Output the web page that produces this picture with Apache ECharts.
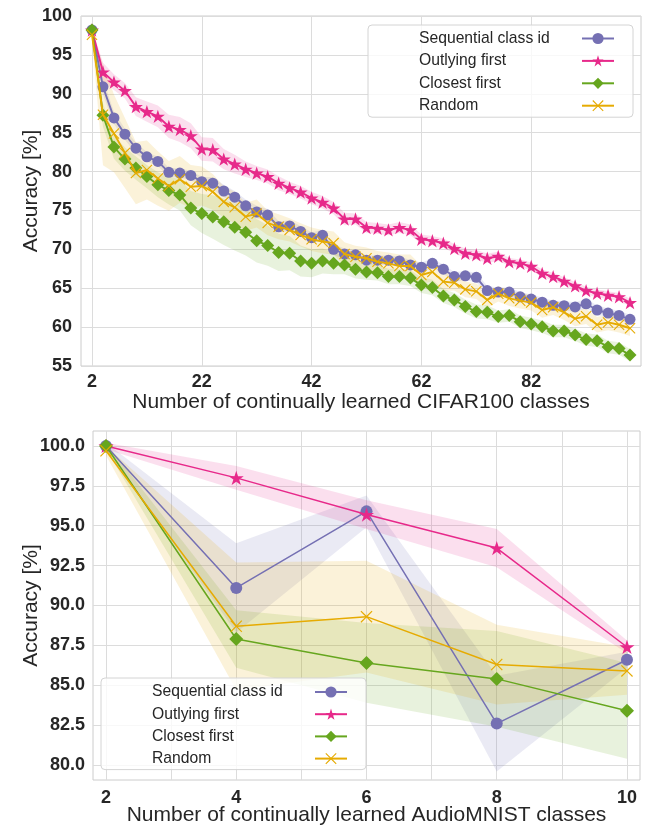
<!DOCTYPE html>
<html>
<head>
<meta charset="utf-8">
<script src="https://cdn.jsdelivr.net/npm/echarts@6/dist/echarts.min.js"></script>
<style>
html, body { margin: 0; padding: 0; background: #fff; }
#chart { width: 646px; height: 826px; }
</style>
</head>
<body>
<div id="chart"></div>
<script>
// --- data ---
var seriesNames = ['Sequential class id', 'Outlying first', 'Closest first', 'Random'];

var cifarClasses = [2, 4, 6, 8, 10, 12, 14, 16, 18, 20, 22, 24, 26, 28, 30, 32, 34, 36, 38, 40,
    42, 44, 46, 48, 50, 52, 54, 56, 58, 60, 62, 64, 66, 68, 70, 72, 74, 76, 78, 80,
    82, 84, 86, 88, 90, 92, 94, 96, 98, 100];
var cifarTicks = [2, 22, 42, 62, 82];

var cifarSeq = [98.2, 90.9, 86.9, 84.8, 83.0, 81.9, 81.3, 79.9, 79.8, 79.5, 78.7, 78.5, 77.5, 76.7, 75.6, 74.8, 74.4, 72.9, 73.0, 72.3,
    71.5, 71.8, 70.0, 69.4, 69.3, 68.6, 68.6, 68.6, 68.5, 68.0, 67.7, 68.2, 67.45, 66.5, 66.6, 66.4, 64.7, 64.5, 64.5, 63.9,
    63.6, 63.2, 62.8, 62.75, 62.6, 63.0, 62.2, 61.8, 61.5, 61.0];
var cifarOut = [98.2, 92.8, 91.5, 90.4, 88.35, 87.7, 87.1, 85.8, 85.4, 84.6, 82.9, 82.8, 81.6, 80.95, 80.3, 79.8, 79.35, 78.5, 77.9, 77.35,
    76.6, 76.05, 75.3, 73.9, 73.9, 72.8, 72.7, 72.5, 72.8, 72.5, 71.3, 71.1, 70.8, 70.1, 69.5, 69.3, 68.85, 69.1, 68.4, 68.2,
    67.8, 66.9, 66.5, 65.9, 65.3, 64.7, 64.35, 64.1, 63.9, 63.15];
var cifarClose = [98.2, 87.25, 83.15, 81.6, 80.45, 79.35, 78.3, 77.55, 77.0, 75.3, 74.6, 74.15, 73.55, 72.85, 72.2, 71.1, 70.5, 69.6, 69.5, 68.5,
    68.2, 68.5, 68.2, 68.0, 67.45, 67.1, 67.0, 66.5, 66.5, 66.3, 65.4, 65.1, 64.0, 63.5, 62.65, 62.0, 61.9, 61.35, 61.5, 60.7,
    60.4, 60.05, 59.5, 59.5, 59.0, 58.4, 58.25, 57.45, 57.25, 56.4];
var cifarRand = [97.6, 87.3, 84.9, 82.4, 79.8, 80.2, 79.1, 78.15, 79.0, 78.05, 78.15, 77.4, 76.1, 75.4, 74.2, 74.6, 73.4, 72.9, 72.5, 71.85,
    71.3, 71.0, 70.8, 69.4, 69.05, 68.85, 68.4, 68.2, 67.85, 67.85, 66.7, 67.1, 65.85, 65.7, 64.85, 64.6, 63.5, 64.3, 63.7, 63.4,
    63.15, 62.2, 62.55, 61.9, 61.1, 61.4, 60.3, 60.6, 60.3, 59.85];

// half width of the shaded bands
var cifarSeqStd = [0.3, 1.0, 0.8, 0.7, 0.7, 0.6, 0.6, 0.6, 0.6, 0.6, 0.6, 0.8, 0.8, 0.8, 0.8, 0.8, 0.8, 0.7, 0.7, 0.7,
    0.7, 0.7, 0.7, 0.7, 0.6, 0.6, 0.6, 0.6, 0.6, 0.6, 0.6, 0.6, 0.6, 0.6, 0.6, 0.6, 0.6, 0.6, 0.6, 0.6,
    0.6, 0.6, 0.6, 0.6, 0.6, 0.6, 0.6, 0.6, 0.6, 0.6];
var cifarOutStd = [0.3, 1.2, 1.0, 1.0, 1.2, 1.3, 1.4, 1.5, 1.6, 1.6, 1.5, 1.5, 1.3, 1.2, 1.0, 0.9, 0.9, 0.9, 0.8, 0.8,
    0.8, 0.8, 0.8, 0.8, 0.7, 0.7, 0.7, 0.7, 0.7, 0.7, 0.6, 0.6, 0.6, 0.6, 0.6, 0.6, 0.6, 0.6, 0.5, 0.5,
    0.5, 0.5, 0.5, 0.5, 0.5, 0.5, 0.5, 0.5, 0.5, 0.5];
var cifarCloseStd = [0.3, 1.5, 1.5, 1.5, 1.5, 1.5, 1.6, 1.8, 2.0, 2.2, 2.5, 2.8, 3.0, 3.0, 3.0, 2.8, 2.6, 2.4, 2.2, 2.0,
    1.8, 1.6, 1.4, 1.2, 1.2, 1.0, 1.0, 1.0, 1.0, 1.0, 1.0, 1.0, 0.9, 0.9, 0.9, 0.9, 0.9, 0.8, 0.8, 0.8,
    0.8, 0.8, 0.8, 0.8, 0.8, 0.8, 0.8, 0.8, 0.8, 0.8];
var cifarRandStd = [0.5, 6.5, 5.0, 4.5, 4.0, 3.8, 3.5, 3.2, 3.0, 2.8, 2.5, 2.3, 2.0, 2.0, 1.8, 1.8, 1.6, 1.6, 1.5, 1.5,
    1.5, 1.5, 1.5, 1.5, 1.4, 1.4, 1.4, 1.4, 1.5, 1.5, 1.2, 1.2, 1.2, 1.0, 1.0, 1.0, 1.0, 1.0, 1.0, 1.0,
    1.0, 1.0, 1.0, 1.0, 1.0, 1.0, 1.0, 1.0, 1.0, 1.0];

var audioClasses = [2, 4, 6, 8, 10];
var audioTicks = [2, 3, 4, 5, 6, 7, 8, 9, 10];
var audioLabels = [2, 4, 6, 8, 10];
var audioYTicks = [80, 82.5, 85, 87.5, 90, 92.5, 95, 97.5, 100];

var audioSeq = [100.0, 91.1, 95.9, 82.6, 86.6];
var audioOut = [100.0, 98.0, 95.7, 93.6, 87.4];
var audioClose = [100.0, 87.9, 86.4, 85.4, 83.4];
var audioRand = [99.7, 88.7, 89.3, 86.3, 85.9];

var audioSeqStd = [0.2, 2.8, 1.0, 3.0, 0.5];
var audioOutStd = [0.2, 0.75, 0.9, 1.2, 0.4];
var audioCloseStd = [0.2, 1.8, 2.5, 3.0, 3.0];
var audioRandStd = [0.3, 4.0, 3.5, 2.5, 1.5];

// --- styling ---
var colors = ['#7570b3', '#e7298a', '#66a61e', '#e6ab02'];
var starPath = 'path://M0,-10L2.245,-3.09L9.51,-3.09L3.633,1.18L5.878,8.09L0,3.82L-5.878,8.09L-3.633,1.18L-9.51,-3.09L-2.245,-3.09Z';
var crossPath = 'path://M-10,-8.6L-8.6,-10L0,-1.4L8.6,-10L10,-8.6L1.4,0L10,8.6L8.6,10L0,1.4L-8.6,10L-10,8.6L-1.4,0Z';
var symbols = ['circle', starPath, 'diamond', crossPath];
var font = "'Liberation Sans', Arial, sans-serif";
var textColor = '#262626';
var gridLine = '#dcdcdc';

var series = [];

// shaded band (mean +- std) as one polygon, placed through the axes
function bandSeries(idx, xs, m, s, color) {
    return {
        type: 'custom', xAxisIndex: idx, yAxisIndex: idx, silent: true, z: 1,
        data: xs.map(function (x, i) { return [x, m[i] - s[i], m[i] + s[i]]; }),
        encode: { x: 0, y: [1, 2] },
        renderItem: function (params, api) {
            if (params.dataIndex !== 0) return;
            var upper = [], lower = [];
            for (var i = 0; i < xs.length; i++) {
                upper.push(api.coord([xs[i], m[i] + s[i]]));
                lower.push(api.coord([xs[i], m[i] - s[i]]));
            }
            return {
                type: 'polygon',
                shape: { points: upper.concat(lower.reverse()) },
                style: { fill: color, opacity: 0.15 }
            };
        }
    };
}

function addPanel(idx, xs, means, stds, sizes, lineWidth) {
    seriesNames.forEach(function (name, k) {
        series.push(bandSeries(idx, xs, means[k], stds[k], colors[k]));
    });
    seriesNames.forEach(function (name, k) {
        series.push({
            name: name, type: 'line', xAxisIndex: idx, yAxisIndex: idx,
            data: xs.map(function (x, i) { return [x, means[k][i]]; }),
            symbol: symbols[k], symbolSize: sizes[k], symbolKeepAspect: true,
            showAllSymbol: true,
            itemStyle: { color: colors[k] },
            lineStyle: { color: colors[k], width: lineWidth },
            z: 3 + k
        });
    });
}

addPanel(0, cifarClasses,
    [cifarSeq, cifarOut, cifarClose, cifarRand],
    [cifarSeqStd, cifarOutStd, cifarCloseStd, cifarRandStd],
    [11, 14, 13, 11], 1.9);
addPanel(1, audioClasses,
    [audioSeq, audioOut, audioClose, audioRand],
    [audioSeqStd, audioOutStd, audioCloseStd, audioRandStd],
    [12, 15, 14, 12], 1.5);

var tickLabel = { color: textColor, fontFamily: font, fontWeight: 'bold', fontSize: 18 };
var axisName = { color: textColor, fontFamily: font, fontSize: 21 };

function legendAt(left, top, gap, pad) {
    return {
        orient: 'vertical', left: left, top: top, align: 'right',
        data: seriesNames,
        itemWidth: 32, itemHeight: 14, itemGap: gap,
        padding: pad,
        backgroundColor: 'rgba(255,255,255,0.8)',
        borderColor: '#d4d4d4', borderWidth: 1, borderRadius: 4,
        formatter: function (name) { return '{t|' + name + '}'; },
        textStyle: {
            rich: { t: { width: 158, align: 'left', fontSize: 15.7, fontFamily: font, color: textColor } }
        },
        selectedMode: false
    };
}

var chart = echarts.init(document.getElementById('chart'), null, { renderer: 'canvas' });

var option = {
    animation: false,
    backgroundColor: '#fff',
    grid: [
        { left: 81, top: 16, width: 560, height: 350, show: true, borderColor: '#cccccc', borderWidth: 1, outerBoundsMode: 'none' },
        { left: 93, top: 431, width: 547, height: 349, show: true, borderColor: '#cccccc', borderWidth: 1, outerBoundsMode: 'none' }
    ],
    legend: [
        legendAt(368, 25, 6.4, [5.5, 18, 3.5, 51]),
        legendAt(101, 678, 6.2, [6, 18, 3, 51])
    ],
    xAxis: [
        {
            gridIndex: 0, type: 'value', min: 0, max: 102,
            axisLine: { show: false },
            axisTick: { show: false, customValues: cifarTicks },
            axisLabel: Object.assign({ customValues: cifarTicks, margin: 7 }, tickLabel),
            splitLine: { show: true, lineStyle: { color: gridLine, width: 1 } },
            name: 'Number of continually learned CIFAR100 classes',
            nameLocation: 'middle', nameGap: 26, nameTextStyle: axisName
        },
        {
            gridIndex: 1, type: 'value', min: 1.8, max: 10.2,
            axisLine: { show: false },
            axisTick: { show: false, customValues: audioTicks },
            axisLabel: Object.assign({ customValues: audioLabels, margin: 9 }, tickLabel),
            splitLine: { show: true, lineStyle: { color: gridLine, width: 1 } },
            name: 'Number of continually learned AudioMNIST classes',
            nameLocation: 'middle', nameGap: 25, nameMoveOverlap: false, nameTextStyle: axisName
        }
    ],
    yAxis: [
        {
            gridIndex: 0, type: 'value', min: 55, max: 100, interval: 5,
            axisLine: { show: false },
            axisTick: { show: false },
            axisLabel: Object.assign({ margin: 9 }, tickLabel),
            splitLine: { show: true, lineStyle: { color: gridLine, width: 1 } },
            name: 'Accuracy [%]', nameLocation: 'middle', nameGap: 39,
            nameMoveOverlap: false, nameTextStyle: axisName
        },
        {
            gridIndex: 1, type: 'value', min: 79.0625, max: 100.9375,
            axisLine: { show: false },
            axisTick: { show: false, customValues: audioYTicks },
            axisLabel: Object.assign({
                customValues: audioYTicks, margin: 8,
                formatter: function (v) { return v.toFixed(1); }
            }, tickLabel),
            splitLine: { show: true, lineStyle: { color: gridLine, width: 1 } },
            name: 'Accuracy [%]', nameLocation: 'middle', nameGap: 51,
            nameMoveOverlap: false, nameTextStyle: axisName
        }
    ],
    series: series
};

chart.setOption(option);
</script>
</body>
</html>
